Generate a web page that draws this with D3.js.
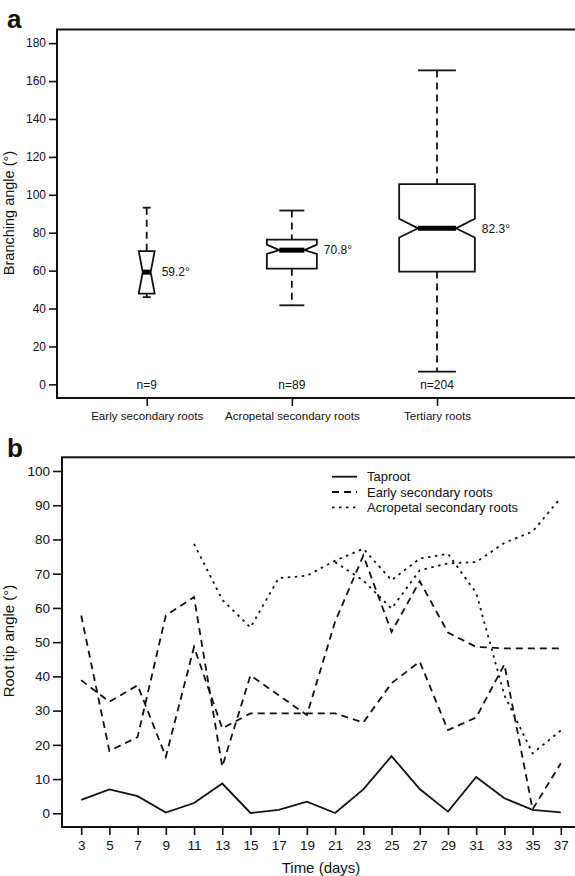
<!DOCTYPE html>
<html>
<head>
<meta charset="utf-8">
<script src="https://cdn.jsdelivr.net/npm/d3@7"></script>
<style>
  body { margin: 0; background: #fff; }
  svg text { font-family: "Liberation Sans", Arial, sans-serif; fill: #111; }
</style>
</head>
<body>
<script>

// ---- panel a: branching angle boxplots ----
var groups = ["Early secondary roots", "Acropetal secondary roots", "Tertiary roots"];
var groupN = [9, 89, 204];
var whiskLo = [46.0, 41.7, 6.7];
var hingeLo = [47.9, 61.0, 59.5];
var medians = [59.2, 70.8, 82.3];
var hingeHi = [70.3, 76.3, 105.6];
var whiskHi = [93.2, 91.7, 165.6];
var notchLo = [48.0, 68.8, 77.5];
var notchHi = [70.3, 73.7, 87.4];
var angleTicks = [0, 20, 40, 60, 80, 100, 120, 140, 160, 180];

// ---- panel b: root tip angle over time ----
var days = [3, 5, 7, 9, 11, 13, 15, 17, 19, 21, 23, 25, 27, 29, 31, 33, 35, 37];
var taproot = [3.9, 7.0, 5.0, 0.2, 3.0, 8.7, 0.1, 1.0, 3.4, 0.1, 7.0, 16.7, 7.1, 0.5, 10.6, 4.4, 1.0, 0.3];
var early1 = [57.8, 18.2, 22.3, 57.8, 63.2, 13.6, 40.3, 34.5, 28.7, 56.0, 75.3, 53.0, 67.8, 52.8, 48.6, 48.2, 48.2, 48.2];
var early2 = [38.9, 32.6, 37.4, 16.5, 48.6, 24.8, 29.2, 29.2, 29.2, 29.2, 26.5, 38.0, 44.3, 24.3, 28.0, 43.5, 1.2, 14.6];
var acro1 = [null, null, null, null, 78.7, 62.4, 54.3, 68.7, 69.4, 73.8, 77.3, 68.1, 74.4, 75.8, 64.4, 34.5, 17.5, 24.2];
var acro2 = [null, null, null, null, null, null, null, null, null, 73.4, 68.0, 59.8, 71.0, 73.0, 73.4, 79.0, 82.3, 92.2];
var tipTicks = [0, 10, 20, 30, 40, 50, 60, 70, 80, 90, 100];
var legendNames = ["Taproot", "Early secondary roots", "Acropetal secondary roots"];

var W = 575, H = 876;
var dashed = "7,5", dotted = "2.5,4.5";

var svg = d3.select("body").append("svg")
    .attr("width", W).attr("height", H);

// ================= panel a =================
var aLeft = 57, aRight = 580, aTop = 29.5, aBottom = 398;
var xA = d3.scaleLinear().domain([1, 3]).range([146.7, 437]);
var yA = d3.scaleLinear().domain([-7.2, 187.2]).range([aBottom, aTop]);

var gA = svg.append("g");

gA.append("g")
    .attr("transform", "translate(" + aLeft + ",0)")
    .call(d3.axisLeft(yA).tickValues(angleTicks).tickSize(8).tickPadding(3).tickSizeOuter(0))
    .call(function(g) { g.select(".domain").remove(); })
    .call(function(g) {
      g.selectAll(".tick line").attr("stroke", "#111").attr("stroke-width", 1.6);
      g.selectAll(".tick text").attr("font-size", 12).attr("font-family", null);
    });

gA.append("g")
    .attr("transform", "translate(0," + aBottom + ")")
    .call(d3.axisBottom(xA).tickValues([1, 2, 3]).tickSize(8).tickPadding(6)
          .tickFormat(function(d) { return groups[d - 1]; }).tickSizeOuter(0))
    .call(function(g) { g.select(".domain").remove(); })
    .call(function(g) {
      g.selectAll(".tick line").attr("stroke", "#111").attr("stroke-width", 1.6);
      g.selectAll(".tick text").attr("font-size", 11.6).attr("font-family", null);
    });

// frame
gA.append("rect")
    .attr("x", aLeft).attr("y", aTop)
    .attr("width", aRight - aLeft).attr("height", aBottom - aTop)
    .attr("fill", "none").attr("stroke", "#111").attr("stroke-width", 2);

groups.forEach(function(name, i) {
  var cx = xA(i + 1);
  var hw = 2.65 * Math.sqrt(groupN[i]);  // varwidth boxes
  var g = gA.append("g");

  // whiskers
  g.append("line").attr("x1", cx).attr("x2", cx)
      .attr("y1", yA(whiskHi[i])).attr("y2", yA(hingeHi[i]))
      .attr("stroke", "#111").attr("stroke-width", 1.8).attr("stroke-dasharray", dashed);
  g.append("line").attr("x1", cx).attr("x2", cx)
      .attr("y1", yA(hingeLo[i])).attr("y2", yA(whiskLo[i]))
      .attr("stroke", "#111").attr("stroke-width", 1.8).attr("stroke-dasharray", dashed);
  [whiskHi[i], whiskLo[i]].forEach(function(v) {
    g.append("line").attr("x1", cx - hw / 2).attr("x2", cx + hw / 2)
        .attr("y1", yA(v)).attr("y2", yA(v))
        .attr("stroke", "#111").attr("stroke-width", 1.8);
  });

  // notched box
  var pts = [
    [cx - hw, yA(hingeHi[i])], [cx + hw, yA(hingeHi[i])],
    [cx + hw, yA(notchHi[i])], [cx + hw / 2, yA(medians[i])],
    [cx + hw, yA(notchLo[i])], [cx + hw, yA(hingeLo[i])],
    [cx - hw, yA(hingeLo[i])], [cx - hw, yA(notchLo[i])],
    [cx - hw / 2, yA(medians[i])], [cx - hw, yA(notchHi[i])]
  ];
  g.append("path")
      .attr("d", "M" + pts.join("L") + "Z")
      .attr("fill", "#fff").attr("stroke", "#111").attr("stroke-width", 1.8)
      .attr("stroke-linejoin", "miter");

  // median
  g.append("line").attr("x1", cx - hw / 2).attr("x2", cx + hw / 2)
      .attr("y1", yA(medians[i])).attr("y2", yA(medians[i]))
      .attr("stroke", "#000").attr("stroke-width", 5);

  // median label
  g.append("text")
      .attr("x", cx + hw + 7).attr("y", yA(medians[i]))
      .attr("dy", "0.35em").attr("font-size", 12)
      .text(d3.format(".1f")(medians[i]) + "°");

  // n label
  g.append("text")
      .attr("x", cx).attr("y", yA(0))
      .attr("dy", "0.35em").attr("text-anchor", "middle").attr("font-size", 12)
      .text("n=" + groupN[i]);
});

gA.append("text")
    .attr("transform", "translate(14,213) rotate(-90)")
    .attr("text-anchor", "middle").attr("font-size", 14.5)
    .text("Branching angle (°)");

svg.append("text").attr("x", 7).attr("y", 28)
    .attr("font-size", 26).attr("font-weight", "bold").text("a");

// ================= panel b =================
var bLeft = 62, bRight = 580, bTop = 457.3, bBottom = 827;
var xB = d3.scaleLinear().domain([1.64, 38.36]).range([bLeft, bRight]);
var yB = d3.scaleLinear().domain([-4, 104]).range([bBottom, bTop]);

var gB = svg.append("g");

gB.append("g")
    .attr("transform", "translate(" + bLeft + ",0)")
    .call(d3.axisLeft(yB).tickValues(tipTicks).tickSize(9).tickPadding(3).tickSizeOuter(0))
    .call(function(g) { g.select(".domain").remove(); })
    .call(function(g) {
      g.selectAll(".tick line").attr("stroke", "#111").attr("stroke-width", 1.6);
      g.selectAll(".tick text").attr("font-size", 13.5).attr("font-family", null);
    });

gB.append("g")
    .attr("transform", "translate(0," + bBottom + ")")
    .call(d3.axisBottom(xB).tickValues(days).tickSize(8).tickPadding(5).tickSizeOuter(0))
    .call(function(g) { g.select(".domain").remove(); })
    .call(function(g) {
      g.selectAll(".tick line").attr("stroke", "#111").attr("stroke-width", 1.6);
      g.selectAll(".tick text").attr("font-size", 13.5).attr("font-family", null);
    });

gB.append("rect")
    .attr("x", bLeft).attr("y", bTop)
    .attr("width", bRight - bLeft).attr("height", bBottom - bTop)
    .attr("fill", "none").attr("stroke", "#111").attr("stroke-width", 2);

var line = d3.line()
    .defined(function(d) { return d[1] != null; })
    .x(function(d) { return xB(d[0]); })
    .y(function(d) { return yB(d[1]); });

var series = [
  { values: taproot, dash: null },
  { values: early1, dash: dashed },
  { values: early2, dash: dashed },
  { values: acro1, dash: dotted },
  { values: acro2, dash: dotted }
];

series.forEach(function(s) {
  gB.append("path")
      .datum(days.map(function(d, i) { return [d, s.values[i]]; }))
      .attr("d", line)
      .attr("fill", "none").attr("stroke", "#111").attr("stroke-width", 1.8)
      .attr("stroke-dasharray", s.dash);
});

// legend
var legendDash = [null, dashed, dotted];
legendNames.forEach(function(name, i) {
  var ly = 476.7 + i * 15.3;
  gB.append("line").attr("x1", 332).attr("x2", 357).attr("y1", ly).attr("y2", ly)
      .attr("stroke", "#111").attr("stroke-width", 1.8).attr("stroke-dasharray", legendDash[i]);
  gB.append("text").attr("x", 367).attr("y", ly).attr("dy", "0.35em")
      .attr("font-size", 13).text(name);
});

gB.append("text")
    .attr("transform", "translate(14,641) rotate(-90)")
    .attr("text-anchor", "middle").attr("font-size", 15)
    .text("Root tip angle (°)");

gB.append("text")
    .attr("x", xB(20)).attr("y", 868).attr("dy", "0.35em")
    .attr("text-anchor", "middle").attr("font-size", 15)
    .text("Time (days)");

svg.append("text").attr("x", 7).attr("y", 457)
    .attr("font-size", 26).attr("font-weight", "bold").text("b");

</script>
</body>
</html>
